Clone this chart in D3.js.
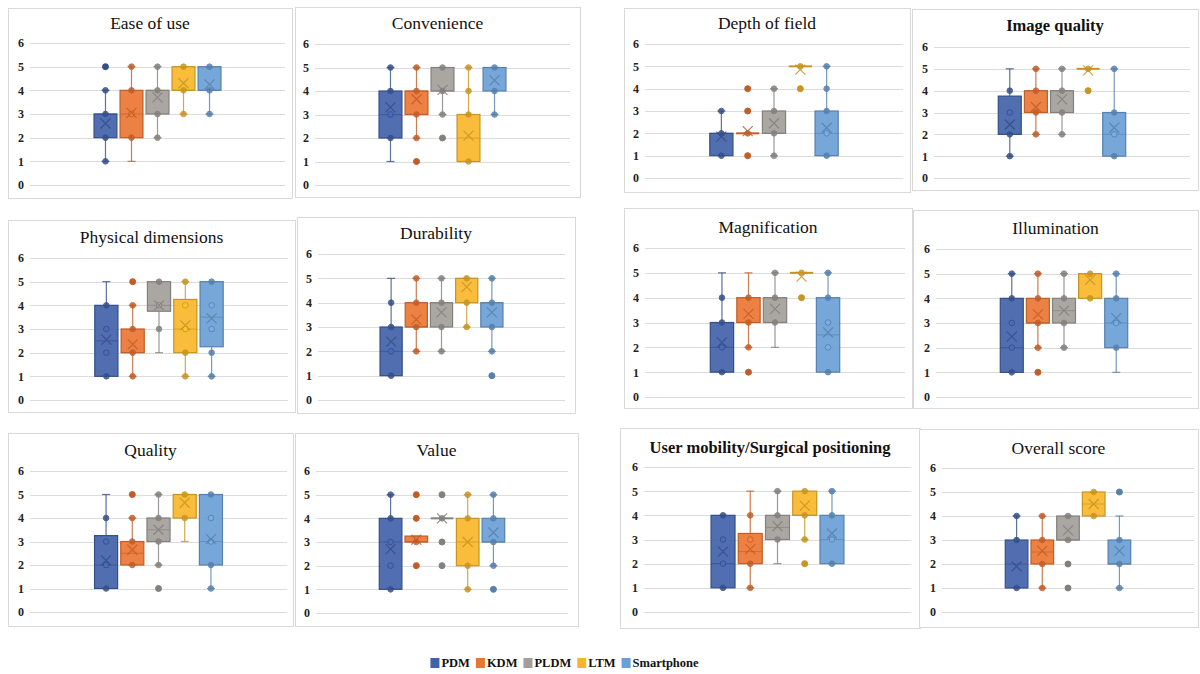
<!DOCTYPE html>
<html><head><meta charset="utf-8">
<script src="https://cdn.jsdelivr.net/npm/d3@7"></script>
<style>body{margin:0;background:#fff}svg{display:block}</style>
</head><body>
<svg id="c" width="1200" height="674"></svg>
<script>
// ---- data ----
const series = ["PDM", "KDM", "PLDM", "LTM", "Smartphone"];
const yTicks = [0, 1, 2, 3, 4, 5, 6];
const titles = ["Ease of use", "Convenience", "Physical dimensions", "Durability", "Quality", "Value",
  "Depth of field", "Image quality", "Magnification", "Illumination", "User mobility/Surgical positioning", "Overall score"];
// each row: [whiskerLow, q1, median, q3, whiskerHigh, mean, [points]]
const easeOfUse = [[1,2,3,3,4,2.6,[1,2,3,4,5]],[1,2,3,4,5,3.05,[2,3,4,5]],[2,3,4,4,5,3.7,[2,3,4,5]],[3,4,4,5,5,4.3,[3,4,5]],[3,4,4,5,5,4.25,[3,4,5]]];
const convenience = [[1,2,3,4,5,3.3,[2,3,4,5]],[2,3,4,4,5,3.65,[1,2,3,4,5]],[3,4,4,5,5,4.05,[2,3,4,5]],[1,1,2,3,5,2.1,[1,3,4,5]],[3,4,5,5,5,4.45,[3,4,5]]];
const physicalDimensions = [[1,1,2.5,4,5,2.55,[1,2,3,4]],[1,2,2,3,4,2.35,[1,2,3,4,5]],[2,3.75,4,5,5,4.0,[3,4,5]],[1,2,3,4.25,5,3.15,[1,2,3,4,5]],[1,2.25,3.5,5,5,3.45,[1,2,3,4,5]]];
const durability = [[1,1,2,3,5,2.4,[1,2,3,4]],[2,3,3,4,5,3.3,[2,3,4,5]],[2,3,4,4,5,3.6,[2,3,4,5]],[3,4,5,5,5,4.65,[3,4,5]],[2,3,4,4,5,3.6,[1,2,3,4,5]]];
const quality = [[1,1,2,3.25,5,2.2,[1,2,3,4]],[2,2,2.5,3,4,2.65,[2,3,4,5]],[2,3,3.5,4,5,3.5,[1,2,3,4,5]],[3,4,5,5,5,4.65,[4,5]],[1,2,3,5,5,3.1,[1,2,3,4,5]]];
const value = [[1,1,3,4,5,2.7,[1,2,3,4,5]],[3,3,3,3.25,3.25,3.1,[2,3,4,5]],[4,4,4,4,4,4.0,[2,3,4,5]],[1,2,3,4,5,3.0,[1,2,4,5]],[2,3,3,4,5,3.4,[1,2,3,4,5]]];
const depthOfField = [[1,1,2,2,3,1.85,[1,2,3]],[2,2,2,2,2,2.1,[1,2,3,4]],[1,2,2,3,4,2.45,[1,2,3,4]],[5,5,5,5,5,4.85,[4,5]],[1,1,2,3,5,2.25,[1,2,3,4,5]]];
const imageQuality = [[1,2,2,3.75,5,2.45,[1,2,3,4]],[2,3,3,4,5,3.25,[2,3,4,5]],[2,3,4,4,5,3.6,[2,3,4,5]],[5,5,5,5,5,4.93,[4,5]],[1,1,2,3,5,2.3,[1,2,3,5]]];
const magnification = [[1,1,2,3,5,2.2,[1,2,3,4]],[2,3,3,4,5,3.35,[1,2,3,4]],[2,3,4,4,5,3.55,[3,4,5]],[5,5,5,5,5,4.85,[4,5]],[1,1,2.5,4,5,2.6,[1,2,3,4,5]]];
const illumination = [[1,1,2,4,5,2.45,[1,2,3,4,5]],[2,3,3,4,5,3.35,[1,2,3,4,5]],[2,3,3.5,4,5,3.5,[2,3,4,5]],[4,4,5,5,5,4.75,[4,5]],[1,2,3,4,5,3.2,[2,3,4,5]]];
const userMobility = [[1,1,2,4,4,2.5,[1,2,3,4]],[1,2,2.5,3.25,5,2.6,[1,2,3,4]],[2,3,3.5,4,5,3.55,[3,4,5]],[3,4,4,5,5,4.4,[2,3,4,5]],[2,2,3,4,5,3.25,[2,3,4,5]]];
const overallScore = [[1,1,2,3,4,1.9,[1,3,4]],[1,2,2.5,3,4,2.55,[1,2,3,4]],[3,3,3,4,4,3.4,[1,2,3,4]],[4,4,4.5,5,5,4.5,[4,5]],[1,2,2,3,4,2.55,[1,2,3,5]]];
const panelData = [easeOfUse, convenience, physicalDimensions, durability, quality, value,
  depthOfField, imageQuality, magnification, illumination, userMobility, overallScore];

// ---- styles / layout ----
const colors = ["#4162a9", "#ec7533", "#a39e9a", "#f8b72a", "#6b9fd6"];
const boldTitle = [false,false,false,false,false,false,false,true,false,false,true,false];
// frame [x0,y0,x1,y1], plot [left,right,yTop,yBottom], titleY
const layout = [
  {f:[8,8,292,198], p:[30,285,43,185], t:23},
  {f:[295,7,580,197], p:[315,570,44,185], t:23},
  {f:[8,220,295,412], p:[30,288,258,400], t:237},
  {f:[297,217,575,413], p:[318,565,254,400], t:233},
  {f:[8,433,293,626], p:[30,287,471,612], t:450},
  {f:[295,433,578,626], p:[316,568,471,613], t:450},
  {f:[624,8,910,192], p:[645,903,44,178], t:23},
  {f:[912,9,1198,190], p:[934,1190,47,178], t:25},
  {f:[624,208,912,408], p:[645,905,248,397], t:227},
  {f:[913,210,1198,408], p:[936,1192,249,397], t:228},
  {f:[620,428,920,628], p:[644,911,467,612], t:447},
  {f:[919,429,1198,627], p:[942,1194,468,612], t:448}
];

const svg = d3.select("#c");
const serif = "'Liberation Serif','Times New Roman',serif";

panelData.forEach((data, i) => {
  const L = layout[i];
  const g = svg.append("g");
  g.append("rect").attr("x", L.f[0]+0.5).attr("y", L.f[1]+0.5)
    .attr("width", L.f[2]-L.f[0]).attr("height", L.f[3]-L.f[1])
    .attr("fill", "#fff").attr("stroke", "#d9d9d9").attr("stroke-width", 1);
  g.append("text").attr("x", (L.f[0]+L.f[2])/2).attr("y", L.t)
    .attr("text-anchor", "middle").attr("dominant-baseline", "central")
    .attr("font-family", serif).attr("font-size", boldTitle[i] ? 16.5 : 17.5)
    .attr("font-weight", boldTitle[i] ? "bold" : "normal").attr("fill", "#111")
    .text(titles[i]);

  const y = d3.scaleLinear().domain([0, 6]).range([L.p[3], L.p[2]]);
  const cx = (L.p[0]+L.p[1])/2, half = (L.p[1]-L.p[0])*0.255;
  const x = d3.scaleBand().domain(series).range([cx-half, cx+half]).paddingInner(0.12).paddingOuter(0.06);

  // gridlines
  g.selectAll(".grid").data(yTicks).join("line")
    .attr("x1", L.p[0]).attr("x2", L.p[1])
    .attr("y1", d => Math.round(y(d))+0.5).attr("y2", d => Math.round(y(d))+0.5)
    .attr("stroke", "#dcdcdc").attr("stroke-width", 1);
  // y axis labels via d3 axis
  const ax = g.append("g").attr("transform", `translate(${L.p[0]-6},0)`)
    .call(d3.axisLeft(y).tickValues(yTicks).tickSize(0).tickPadding(0).tickFormat(d3.format("d")));
  ax.select(".domain").remove();
  ax.selectAll("text").attr("font-family", serif).attr("font-size", 12).attr("font-weight", "bold").attr("fill", "#222");

  data.forEach((d, j) => {
    const [lo, q1, med, q3, hi, mean, pts] = d;
    const c = colors[j];
    const dark = d3.color(c).darker(0.6).formatHex();
    const bx = x(series[j]), bw = x.bandwidth(), mx = bx + bw/2;
    const sg = g.append("g");
    // whiskers
    sg.append("line").attr("x1", mx).attr("x2", mx).attr("y1", y(hi)).attr("y2", y(q3)).attr("stroke", dark).attr("stroke-width", 1.2).attr("opacity", 0.8);
    sg.append("line").attr("x1", mx).attr("x2", mx).attr("y1", y(q1)).attr("y2", y(lo)).attr("stroke", dark).attr("stroke-width", 1.2).attr("opacity", 0.8);
    [lo, hi].forEach(v => {
      sg.append("line").attr("x1", mx-4).attr("x2", mx+4).attr("y1", y(v)).attr("y2", y(v)).attr("stroke", dark).attr("stroke-width", 1.2).attr("opacity", 0.8);
    });
    // box
    const h = Math.max(y(q1) - y(q3), 0);
    if (h > 0.5) {
      sg.append("rect").attr("x", bx).attr("y", y(q3)).attr("width", bw).attr("height", h)
        .attr("fill", c).attr("fill-opacity", 0.92).attr("stroke", dark).attr("stroke-width", 1.2);
    }
    // median
    sg.append("line").attr("x1", bx).attr("x2", bx+bw).attr("y1", y(med)).attr("y2", y(med))
      .attr("stroke", dark).attr("stroke-width", h > 0.5 ? 1 : 2).attr("opacity", h > 0.5 ? 0.6 : 1);
    // points
    pts.forEach(v => {
      const inside = v > q1 && v < q3;
      const outlier = v < lo || v > hi;
      sg.append("circle").attr("cx", mx).attr("cy", y(v)).attr("r", outlier ? 3 : 2.8)
        .attr("fill", inside ? d3.color(c).brighter(0.3).formatHex() : dark)
        .attr("stroke", dark).attr("stroke-width", 1).attr("opacity", outlier ? 1 : 0.85);
    });
    // mean X
    const s = 5, my = y(mean);
    sg.append("path").attr("d", `M${mx-s},${my-s}L${mx+s},${my+s}M${mx-s},${my+s}L${mx+s},${my-s}`)
      .attr("stroke", dark).attr("stroke-width", 1.2).attr("fill", "none").attr("opacity", 0.85);
  });
});

// legend: laid out sequentially from measured text widths, centred
const lg = svg.append("g");
let cursor = 0;
series.forEach((s, j) => {
  const it = lg.append("g");
  it.append("rect").attr("x", 0).attr("y", -5).attr("width", 9).attr("height", 10).attr("fill", colors[j]);
  const t = it.append("text").attr("x", 11).attr("y", 0).attr("dominant-baseline", "central")
    .attr("font-family", serif).attr("font-size", 12.5).attr("font-weight", "bold").attr("fill", "#111").text(s);
  const w = 11 + t.node().getComputedTextLength();
  it.attr("transform", `translate(${cursor},663)`);
  cursor += w + 6;
});
const total = cursor - 6;
lg.attr("transform", `translate(${564.5 - total/2},0)`);
</script>
</body></html>
